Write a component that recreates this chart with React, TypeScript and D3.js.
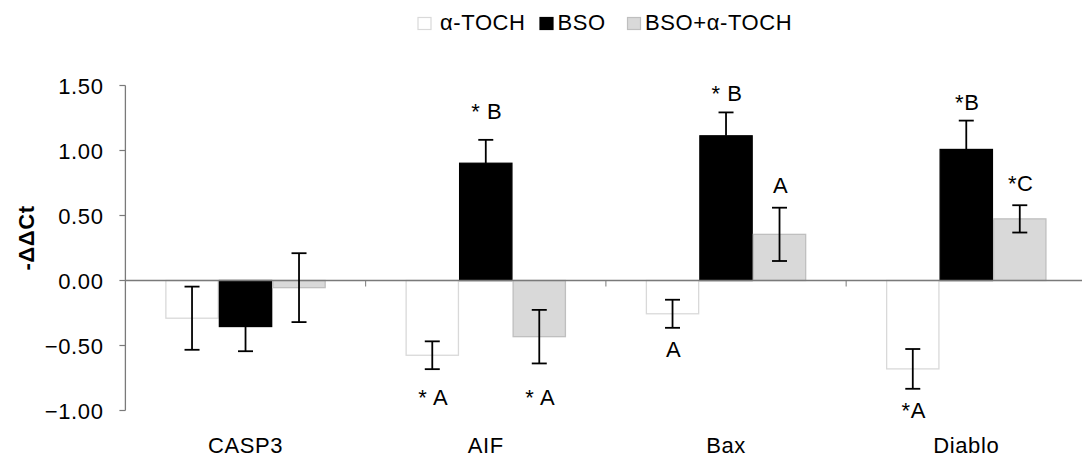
import React from "react";
import * as d3 from "d3";

// Genes on the x axis
const categories = ["CASP3", "AIF", "Bax", "Diablo"];
// Treatment groups
const seriesNames = ["α-TOCH", "BSO", "BSO+α-TOCH"];
// Mean -ΔΔCt per treatment (rows) and gene (columns)
const meanTOCH = [-0.29, -0.575, -0.256, -0.68];
const meanBSO = [-0.354, 0.902, 1.113, 1.008];
const meanBSOTOCH = [-0.055, -0.432, 0.355, 0.474];
// Error bar half-lengths
const errTOCH = [0.243, 0.107, 0.108, 0.153];
const errBSO = [0.19, 0.18, 0.18, 0.222];
const errBSOTOCH = [0.265, 0.206, 0.205, 0.105];
// Significance letters and the value at which each one sits
const labelTOCH = ["", "* A", "A", "*A"];
const labelBSO = ["", "* B", "* B", "*B"];
const labelBSOTOCH = ["", "* A", "A", "*C"];
const labelAtTOCH = [0, -0.956, -0.59, -1.056];
const labelAtBSO = [0, 1.244, 1.379, 1.313];
const labelAtBSOTOCH = [0, -0.956, 0.672, 0.685];
// Y axis ticks
const yTicks = [-1.0, -0.5, 0, 0.5, 1.0, 1.5];

const W = 1082;
const H = 461;
const FONT = "'Liberation Sans', Arial, Helvetica, sans-serif";
const FS = 22;
const LS = 0.6;

const styles = [
  { fill: "#ffffff", stroke: "#d9d9d9" },
  { fill: "#000000", stroke: "#000000" },
  { fill: "#d9d9d9", stroke: "#bfbfbf" },
];

export default function App() {
  const means = [meanTOCH, meanBSO, meanBSOTOCH];
  const errs = [errTOCH, errBSO, errBSOTOCH];
  const labels = [labelTOCH, labelBSO, labelBSOTOCH];
  const labelAt = [labelAtTOCH, labelAtBSO, labelAtBSOTOCH];

  const left = 125.4;
  const x0 = d3.scaleBand<string>().domain(categories).range([left, 1086.4]).padding(0);
  const groupW = x0.bandwidth() * 0.668;
  const x1 = d3.scaleBand<string>().domain(seriesNames).range([0, groupW]).padding(0);
  const y = d3.scaleLinear().domain([-1, 1.5]).range([410.5, 85.5]);
  const y0 = y(0);

  const barX = (ci: number, si: number) =>
    (x0(categories[ci]) as number) + (x0.bandwidth() - groupW) / 2 + (x1(seriesNames[si]) as number);

  const legendItems = [
    { sx: 418, tx: 440 },
    { sx: 540, tx: 557.5 },
    { sx: 627.5, tx: 645 },
  ];

  return (
    <svg
      width={W}
      height={H}
      style={{ position: "absolute", left: 0, top: 0, background: "#fff" }}
      fontFamily={FONT}
      letterSpacing={LS}
    >
      {/* legend */}
      {legendItems.map((l, i) => (
        <g key={seriesNames[i]}>
          <rect x={l.sx} y={17.5} width={13} height={12} fill={styles[i].fill} stroke={styles[i].stroke} strokeWidth={1.2} />
          <text x={l.tx} y={30} fontSize={FS} fill="#000">{seriesNames[i]}</text>
        </g>
      ))}

      {/* bars */}
      {means.map((vals, si) =>
        vals.map((v, ci) => {
          const bx = barX(ci, si);
          const top = Math.min(y(v), y0);
          const h = Math.abs(y(v) - y0);
          return (
            <rect
              key={`b${si}-${ci}`}
              x={bx + 0.6}
              y={top}
              width={x1.bandwidth() - 1.2}
              height={h}
              fill={styles[si].fill}
              stroke={styles[si].stroke}
              strokeWidth={1.3}
            />
          );
        })
      )}

      {/* x axis (zero line) and category separators */}
      <line x1={left} x2={W} y1={y0} y2={y0} stroke="#7a7a7a" strokeWidth={1.3} />
      {categories.slice(1).map((c) => (
        <line key={`xt${c}`} x1={x0(c) as number} x2={x0(c) as number} y1={y0} y2={y0 + 6} stroke="#7a7a7a" strokeWidth={1} />
      ))}

      {/* error bars */}
      {means.map((vals, si) =>
        vals.map((v, ci) => {
          const cx = barX(ci, si) + x1.bandwidth() / 2;
          const e = errs[si][ci];
          // the BSO bars show only the outward half of the bar
          const hi = si === 1 ? (v >= 0 ? v + e : v) : v + e;
          const lo = si === 1 ? (v >= 0 ? v : v - e) : v - e;
          return (
            <g key={`e${si}-${ci}`} stroke="#000" strokeWidth={1.8}>
              <line x1={cx} x2={cx} y1={y(hi)} y2={y(lo)} />
              {(si !== 1 || v >= 0) && <line x1={cx - 7.5} x2={cx + 7.5} y1={y(hi)} y2={y(hi)} />}
              {(si !== 1 || v < 0) && <line x1={cx - 7.5} x2={cx + 7.5} y1={y(lo)} y2={y(lo)} />}
            </g>
          );
        })
      )}

      {/* significance letters */}
      {labels.map((row, si) =>
        row.map((t, ci) =>
          t ? (
            <text
              key={`l${si}-${ci}`}
              x={barX(ci, si) + x1.bandwidth() / 2 + 1}
              y={y(labelAt[si][ci])}
              fontSize={FS}
              textAnchor="middle"
              fill="#000"
            >
              {t}
            </text>
          ) : null
        )
      )}

      {/* y axis */}
      <line x1={left} x2={left} y1={y(1.5)} y2={y(-1)} stroke="#7a7a7a" strokeWidth={1.3} />
      {yTicks.map((t) => (
        <g key={`yt${t}`}>
          <line x1={left - 6} x2={left} y1={y(t)} y2={y(t)} stroke="#7a7a7a" strokeWidth={1.2} />
          <text x={103.5} y={y(t) + 8} fontSize={FS} textAnchor="end" fill="#000">
            {d3.format(".2f")(t)}
          </text>
        </g>
      ))}
      <text
        transform={`translate(34,238) rotate(-90)`}
        fontSize={FS}
        fontWeight="bold"
        textAnchor="middle"
        fill="#000"
      >
        -ΔΔCt
      </text>

      {/* category labels */}
      {categories.map((c) => (
        <text
          key={`xl${c}`}
          x={(x0(c) as number) + x0.bandwidth() / 2}
          y={453}
          fontSize={FS}
          textAnchor="middle"
          fill="#000"
        >
          {c}
        </text>
      ))}
    </svg>
  );
}
